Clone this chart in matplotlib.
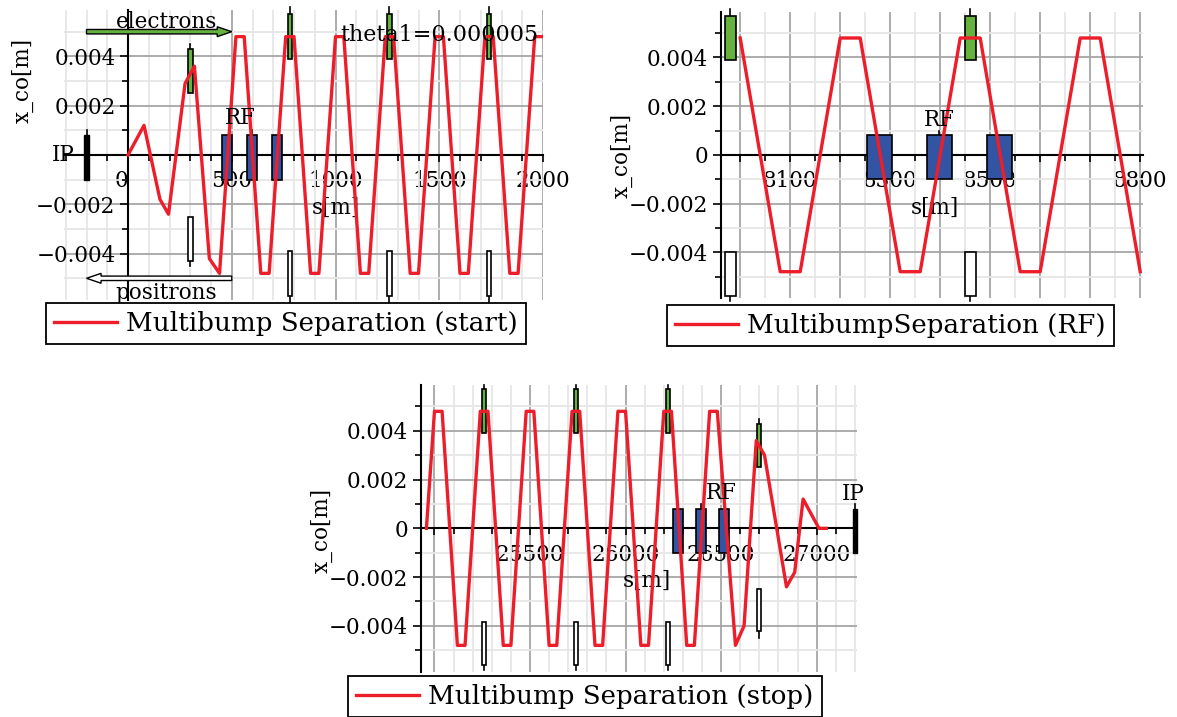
import matplotlib.pyplot as plt
from matplotlib.patches import Rectangle, FancyArrow
from matplotlib.ticker import MultipleLocator, FuncFormatter

plt.rcParams['font.family'] = ['DejaVu Serif']

W, H = 1177, 717
FS = 15.5
RED = '#ee1d2a'
GREEN = '#66b23f'
BLUE = '#3353a3'

# closed orbit x_co[m] vs s[m]
s_start = [0, 77, 154, 195, 275, 320, 392, 441,
           520, 560, 640, 680, 760, 800, 880, 920, 1000, 1040, 1120, 1160,
           1240, 1280, 1360, 1400, 1480, 1520, 1600, 1640, 1720, 1760,
           1840, 1880, 1960, 2000]
xco_start = [0, 0.0012, -0.0018, -0.0024, 0.0029, 0.0036, -0.0042, -0.0048,
             0.0048, 0.0048, -0.0048, -0.0048, 0.0048, 0.0048, -0.0048, -0.0048,
             0.0048, 0.0048, -0.0048, -0.0048, 0.0048, 0.0048, -0.0048, -0.0048,
             0.0048, 0.0048, -0.0048, -0.0048, 0.0048, 0.0048, -0.0048, -0.0048,
             0.0048, 0.0048]

s_rf = [8000, 8080, 8120, 8200, 8240, 8320, 8360, 8440, 8480, 8560, 8600,
        8680, 8720, 8800]
xco_rf = [0.0048, -0.0048, -0.0048, 0.0048, 0.0048, -0.0048, -0.0048,
          0.0048, 0.0048, -0.0048, -0.0048, 0.0048, 0.0048, -0.0048]

s_stop = [24958, 25000, 25040, 25120, 25160, 25240, 25280, 25360, 25400,
          25480, 25520, 25600, 25640, 25720, 25760, 25840, 25880, 25960, 26000,
          26080, 26120, 26200, 26240, 26320, 26360, 26440, 26480,
          26575, 26620, 26684, 26727, 26842, 26885, 26929, 27012, 27050]
xco_stop = [0, 0.0048, 0.0048, -0.0048, -0.0048, 0.0048, 0.0048, -0.0048, -0.0048,
            0.0048, 0.0048, -0.0048, -0.0048, 0.0048, 0.0048, -0.0048, -0.0048,
            0.0048, 0.0048, -0.0048, -0.0048, 0.0048, 0.0048, -0.0048, -0.0048,
            0.0048, 0.0048,
            -0.0048, -0.0040, 0.0036, 0.0030, -0.0024, -0.0018, 0.0012, 0, 0]

# element positions (s)
sep_start = [780, 1260, 1740]
sep_start_short = [300]
rf_start = [478, 598, 718]
sep_rf = [7980, 8460]
rf_rf = [8278, 8398, 8518]
sep_stop = [25260, 25740, 26220]
sep_stop_short = [26700]
rf_stop = [26275, 26395, 26515]
ip_start = -200
ip_stop = 27200

fig = plt.figure(figsize=(W / 100, H / 100), dpi=100)


def panel(box, xlim, major, minor, xlabels, ylabels, yaxis_at_zero=False):
    l, t, r, b = box
    ax = fig.add_axes([l / W, 1 - b / H, (r - l) / W, (b - t) / H])
    ax.set_xlim(*xlim)
    ax.set_ylim(-0.00588, 0.00588)
    for sp in ['top', 'right']:
        ax.spines[sp].set_visible(False)
    ax.spines['bottom'].set_position(('data', 0))
    if yaxis_at_zero:
        ax.spines['left'].set_position(('data', 0))
    for sp in ['bottom', 'left']:
        ax.spines[sp].set_linewidth(1.5)
        ax.spines[sp].set_zorder(2.5)
    ax.xaxis.set_major_locator(MultipleLocator(major))
    ax.xaxis.set_minor_locator(MultipleLocator(minor))
    ax.yaxis.set_major_locator(MultipleLocator(0.002))
    ax.yaxis.set_minor_locator(MultipleLocator(0.001))
    ax.xaxis.set_major_formatter(FuncFormatter(
        lambda v, p: f'{v:.0f}' if round(v) in xlabels else ''))
    ax.yaxis.set_major_formatter(FuncFormatter(
        lambda v, p: ylabels.get(round(v * 1000), '')))
    ax.grid(which='major', color='#a6a6a6', lw=1.3, zorder=0)
    ax.grid(which='minor', color='#e6e6e6', lw=1.3, zorder=0)
    ax.set_axisbelow(True)
    ax.tick_params(axis='x', which='major', direction='out', length=5, width=1.2,
                   pad=6, labelsize=FS)
    ax.tick_params(axis='x', which='minor', direction='out', length=4, width=1.2)
    ax.tick_params(axis='y', which='major', direction='out', length=6, width=1.2,
                   pad=3, labelsize=FS)
    ax.tick_params(axis='y', which='minor', direction='out', length=4, width=1.2)
    return ax


def separator(ax, s, y0, y1, stem, color, w=22):
    ax.plot([s, s], [(y0 + y1) / 2, stem], color='black', lw=1.2, zorder=3,
            clip_on=False)
    ax.add_patch(Rectangle((s - w / 2, y0), w, y1 - y0, facecolor=color,
                           edgecolor='black', lw=1.2, zorder=3))


def rf_cavities(ax, centers, w=50):
    for i, s in enumerate(centers):
        if i == 1:
            ax.plot([s, s], [0, 0.001], color='black', lw=1.2, zorder=3)
        ax.add_patch(Rectangle((s - w / 2, -0.001), w, 0.0018, facecolor=BLUE,
                               edgecolor='black', lw=1.2, zorder=3))


def ip_marker(ax, s, w=24):
    ax.plot([s, s], [0, 0.001], color='black', lw=1.2, zorder=3, clip_on=False)
    ax.add_patch(Rectangle((s - w / 2, -0.001), w, 0.0018, facecolor='black',
                           edgecolor='black', lw=1.0, zorder=3, clip_on=False))


def legend(ax, line, text, x, y):
    leg = ax.legend([line], [text], loc='upper left',
                    bbox_to_anchor=(x / W, 1 - y / H),
                    bbox_transform=fig.transFigure, borderaxespad=0,
                    fancybox=False, framealpha=1, edgecolor='black',
                    fontsize=18.8, handlelength=2.4, handletextpad=0.38,
                    borderpad=0.3)
    leg.get_frame().set_linewidth(1.3)


ylab_all = {4: '0.004', 2: '0.002', 0: '0', -2: '\u22120.002', -4: '\u22120.004'}
ylab_nozero = {k: v for k, v in ylab_all.items() if k != 0}

# ---------------- start
ax1 = panel((63.7, 10, 543, 300), (-310, 2000), 500, 100,
            [0, 500, 1000, 1500, 2000], ylab_nozero, yaxis_at_zero=True)
for s in sep_start:
    separator(ax1, s, 0.0039, 0.0057, 0.0060, GREEN)
    separator(ax1, s, -0.0057, -0.0039, -0.0060, 'white')
for s in sep_start_short:
    separator(ax1, s, 0.0025, 0.0043, 0.0045, GREEN)
    separator(ax1, s, -0.0043, -0.0025, -0.0045, 'white')
rf_cavities(ax1, rf_start)
ip_marker(ax1, ip_start)
ax1.add_patch(FancyArrow(-200, 0.0050, 700, 0, width=0.00018,
                         head_width=0.0004, head_length=70,
                         length_includes_head=True, facecolor=GREEN,
                         edgecolor='black', lw=1.0, zorder=3))
ax1.add_patch(FancyArrow(500, -0.0050, -700, 0, width=0.00018,
                         head_width=0.0004, head_length=70,
                         length_includes_head=True, facecolor='white',
                         edgecolor='black', lw=1.0, zorder=3))
l1, = ax1.plot(s_start, xco_start, color=RED, lw=2.4, zorder=4)
ax1.text(186, 0.0054, 'electrons', ha='center', va='center', fontsize=FS, zorder=5)
ax1.text(186, -0.0056, 'positrons', ha='center', va='center', fontsize=FS,
         zorder=5, clip_on=False)
ax1.text(1500, 0.00487, 'theta1=0.000005', ha='center', va='center',
         fontsize=FS + 0.5, zorder=5)
ax1.text(540, 0.0015, 'RF', ha='center', va='center', fontsize=FS, zorder=5)
ax1.text(-310, 0, 'IP', ha='center', va='center', fontsize=FS, zorder=5,
         clip_on=False)
ax1.text(1000, -0.00215, 's[m]', ha='center', va='center', fontsize=FS)
for lab in ax1.get_xticklabels():
    if lab.get_text() == '0':
        lab.set_ha('right')
fig.text(22.7 / W, 1 - 80 / H, 'x_co[m]', rotation=90, ha='center',
         va='center', fontsize=FS)
legend(ax1, l1, 'Multibump Separation (start)', 46, 303)

# ---------------- RF
ax2 = panel((720.7, 11.7, 1142.7, 298), (7961, 8805), 100, 50,
            [8100, 8300, 8500, 8800], ylab_all)
for s in sep_rf:
    separator(ax2, s, 0.0039, 0.0057, 0.0060, GREEN)
    separator(ax2, s, -0.0058, -0.0040, -0.0060, 'white')
rf_cavities(ax2, rf_rf)
l2, = ax2.plot(s_rf, xco_rf, color=RED, lw=2.4, zorder=4)
ax2.text(8398, 0.00143, 'RF', ha='center', va='center', fontsize=FS, zorder=5)
ax2.text(8389, -0.00217, 's[m]', ha='center', va='center', fontsize=FS)
fig.text(622 / W, 1 - 155 / H, 'x_co[m]', rotation=90, ha='center',
         va='center', fontsize=FS)
legend(ax2, l2, 'MultibumpSeparation (RF)', 667, 305)

# ---------------- stop
ax3 = panel((420.7, 385, 857, 671.7), (24928, 27211), 500, 100,
            [25500, 26000, 26500, 27000], ylab_all)
for s in sep_stop:
    separator(ax3, s, 0.0039, 0.0057, 0.0059, GREEN)
    separator(ax3, s, -0.0056, -0.00385, -0.0058, 'white')
for s in sep_stop_short:
    separator(ax3, s, 0.0025, 0.0043, 0.0045, GREEN)
    separator(ax3, s, -0.0042, -0.0025, -0.0045, 'white')
rf_cavities(ax3, rf_stop)
ip_marker(ax3, ip_stop)
l3, = ax3.plot(s_stop, xco_stop, color=RED, lw=2.4, zorder=4)
ax3.text(26503, 0.00143, 'RF', ha='center', va='center', fontsize=FS, zorder=5)
ax3.text(27190, 0.0014, 'IP', ha='center', va='center', fontsize=FS, zorder=5,
         clip_on=False)
ax3.text(26112, -0.00215, 's[m]', ha='center', va='center', fontsize=FS)
fig.text(321.7 / W, 1 - 530 / H, 'x_co[m]', rotation=90, ha='center',
         va='center', fontsize=FS)
legend(ax3, l3, 'Multibump Separation (stop)', 348, 676)

fig.savefig('out.png', dpi=100)
